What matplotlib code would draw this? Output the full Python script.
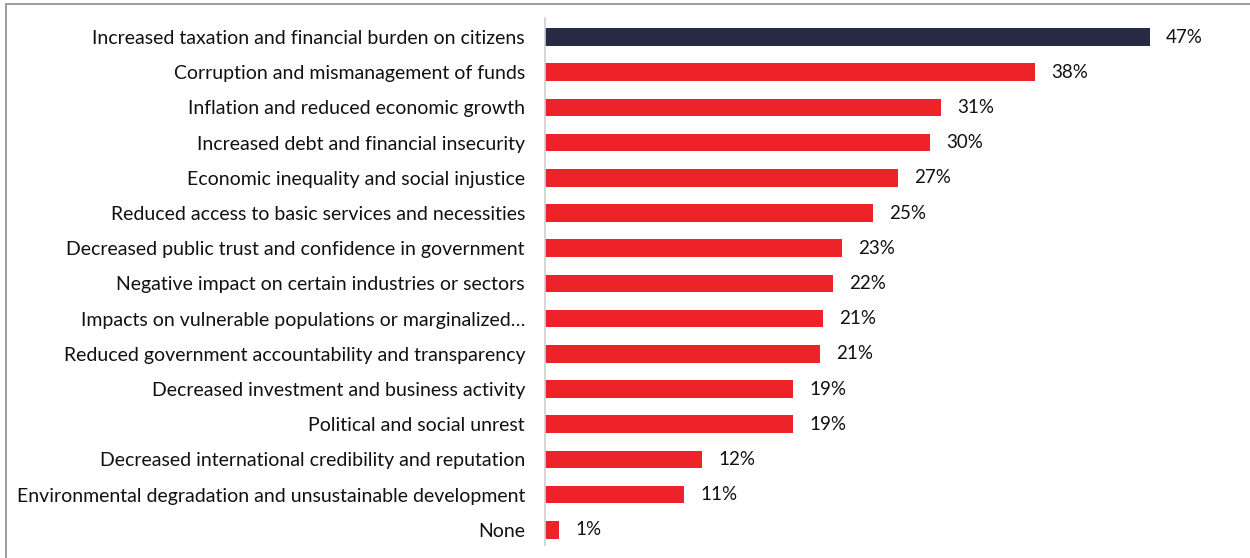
import matplotlib
matplotlib.use("Agg")
import matplotlib.pyplot as plt
from matplotlib.patches import Rectangle

categories = [
    "Increased taxation and financial burden on citizens",
    "Corruption and mismanagement of funds",
    "Inflation and reduced economic growth",
    "Increased debt and financial insecurity",
    "Economic inequality and social injustice",
    "Reduced access to basic services and necessities",
    "Decreased public trust and confidence in government",
    "Negative impact on certain industries or sectors",
    "Impacts on vulnerable populations or marginalized\u2026",
    "Reduced government accountability and transparency",
    "Decreased investment and business activity",
    "Political and social unrest",
    "Decreased international credibility and reputation",
    "Environmental degradation and unsustainable development",
    "None",
]
# bar lengths (percent)
values = [47.0, 38.1, 30.8, 29.9, 27.4, 25.5, 23.1, 22.4, 21.6, 21.4, 19.3, 19.3, 12.2, 10.8, 1.1]
value_labels = ["47%", "38%", "31%", "30%", "27%", "25%", "23%", "22%", "21%", "21%",
                "19%", "19%", "12%", "11%", "1%"]

plt.rcParams['font.family'] = ['Lato', 'DejaVu Sans']

W, H = 1250, 558
fig = plt.figure(figsize=(W / 100, H / 100), dpi=100)
ax_left = 545 / W
ax_right = 1240 / W
ax_top = 1 - 18 / H
ax_bot = 1 - 545 / H
ax = fig.add_axes([ax_left, ax_bot, ax_right - ax_left, ax_top - ax_bot])

colors = ['#262a44'] + ['#ee2229'] * (len(values) - 1)
ypos = list(range(len(values)))
ax.barh(ypos, values, height=0.5, color=colors)
px_per_unit = 605 / 47
ax.set_xlim(0, (1240 - 545) / px_per_unit)
ax.set_ylim(14.43, -0.54)

for y, v, lab in zip(ypos, values, value_labels):
    ax.text(v + 16 / px_per_unit, y, lab, va='center', ha='left', fontsize=13.5, color='#111111')

ax.set_yticks(ypos)
ax.set_yticklabels(categories, fontsize=14, color='#111111')
ax.tick_params(axis='y', length=0, pad=14.4)
ax.set_xticks([])
for s in ['top', 'right', 'bottom']:
    ax.spines[s].set_visible(False)
ax.spines['left'].set_color('#d0d0d0')
ax.spines['left'].set_linewidth(1.2)

fig.patches.append(Rectangle((6 / W, -0.1), 1.2, 1 - 4 / H + 0.1, transform=fig.transFigure,
                             fill=False, edgecolor='#8c8c8c', linewidth=1.2))

fig.savefig("out.png", dpi=100)
